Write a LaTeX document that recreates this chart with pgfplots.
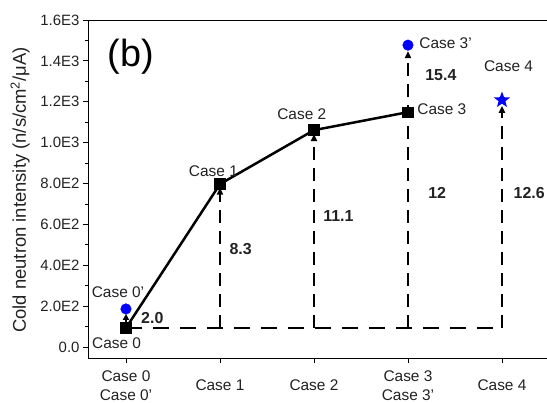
\documentclass[border=0pt]{standalone}
\usepackage{fontspec}
\setmainfont{Liberation Sans}
\usepackage{pgfplots}
\pgfplotsset{compat=1.18}
\usetikzlibrary{arrows.meta}
\pgfdeclareplotmark{fstar}{%
  \pgfpathmoveto{\pgfpointpolar{90}{\pgfplotmarksize}}%
  \pgfpathlineto{\pgfpointpolar{126}{0.42\pgfplotmarksize}}%
  \pgfpathlineto{\pgfpointpolar{162}{\pgfplotmarksize}}%
  \pgfpathlineto{\pgfpointpolar{198}{0.42\pgfplotmarksize}}%
  \pgfpathlineto{\pgfpointpolar{234}{\pgfplotmarksize}}%
  \pgfpathlineto{\pgfpointpolar{270}{0.42\pgfplotmarksize}}%
  \pgfpathlineto{\pgfpointpolar{306}{\pgfplotmarksize}}%
  \pgfpathlineto{\pgfpointpolar{342}{0.42\pgfplotmarksize}}%
  \pgfpathlineto{\pgfpointpolar{18}{\pgfplotmarksize}}%
  \pgfpathlineto{\pgfpointpolar{54}{0.42\pgfplotmarksize}}%
  \pgfpathclose\pgfusepathqfill}
\definecolor{txt}{HTML}{222222}
\begin{document}
\begin{tikzpicture}
\begin{axis}[
  scale only axis, width=459bp, height=338bp,
  xmin=-0.404, xmax=4.479, ymin=-54, ymax=1600,
  axis x line*=bottom, axis y line*=left,
  clip=false,
  xtick={0,1,2,3,4},
  xticklabels={{Case 0\\Case 0'},{Case 1},{Case 2},{Case 3\\Case 3'},{Case 4}},
  xticklabel style={align=center, anchor=center, yshift=-22.5bp,
    font=\fontsize{15.5}{18.5}\selectfont, text=txt, inner sep=1bp},
  ytick={0,200,400,600,800,1000,1200,1400,1600},
  yticklabels={0.0,2.0E2,4.0E2,6.0E2,8.0E2,1.0E3,1.2E3,1.4E3,1.6E3},
  yticklabel style={font=\fontsize{15}{17}\selectfont, text=txt},
  minor y tick num=1,
  tick align=outside, major tick length=5bp, minor tick length=3bp,
  tick style={black, line width=0.8bp},
  axis line style={black, line width=0.9bp},
  ylabel={Cold neutron intensity (n/s/cm\textsuperscript{2}/μA)},
  ylabel style={at={(axis description cs:-0.148,0.497)}, anchor=center,
    rotate=0, font=\fontsize{18.5}{20}\selectfont, text=txt},
]
\draw[black, line width=0.9bp] (rel axis cs:0,1) -- (rel axis cs:1,1);
% dashed baseline and verticals
\addplot[black, line width=2.4bp, dash pattern=on 16bp off 11bp] coordinates {(0,93) (4,93)};
\addplot[black, line width=2.4bp, dash pattern=on 13bp off 8bp, -{Triangle[width=6bp,length=7bp]}] coordinates {(1,93) (1,780)};
\addplot[black, line width=2.4bp, dash pattern=on 13bp off 8bp, -{Triangle[width=6bp,length=7bp]}] coordinates {(2,93) (2,1042)};
\addplot[black, line width=2.4bp, dash pattern=on 13bp off 8bp, -{Triangle[width=6bp,length=7bp]}] coordinates {(3,93) (3,1448)};
\addplot[black, line width=2.4bp, dash pattern=on 13bp off 8bp, -{Triangle[width=6bp,length=7bp]}] coordinates {(4,93) (4,1180)};
\addplot[black, line width=2.2bp, -{Triangle[width=6bp,length=6bp]}] coordinates {(0,115) (0,162)};
% main line
\addplot[black, line width=2.5bp, mark=square*, mark size=4.4bp, mark options={solid}] coordinates {(0,93) (1,797) (2,1061) (3,1149)};
% blue points
\addplot[only marks, blue, mark=*, mark size=5.3bp] coordinates {(0,186) (3,1477)};
\addplot[only marks, blue, mark=fstar, mark size=8.5bp] coordinates {(4,1208)};
% labels
\begin{scope}[every node/.style={font=\fontsize{15.5}{18}\selectfont, text=txt}]
\node at (axis cs:-0.085,269) {Case 0'};
\node at (axis cs:-0.1,20) {Case 0};
\node at (axis cs:0.93,861) {Case 1};
\node at (axis cs:1.87,1139) {Case 2};
\node at (axis cs:3.36,1164) {Case 3};
\node at (axis cs:3.40,1487) {Case 3'};
\node at (axis cs:4.07,1375) {Case 4};
\end{scope}
\begin{scope}[every node/.style={font=\bfseries\fontsize{16}{18}\selectfont, text=txt}]
\node at (axis cs:0.28,142) {2.0};
\node at (axis cs:1.22,479) {8.3};
\node at (axis cs:2.26,641) {11.1};
\node at (axis cs:3.31,753) {12};
\node at (axis cs:4.29,753) {12.6};
\node at (axis cs:3.35,1331) {15.4};
\end{scope}
\node[font=\fontsize{38}{42}\selectfont, text=black] at (axis cs:0.05,1418) {(b)};
\end{axis}
\pgfresetboundingbox
\path[use as bounding box] (-88bp,-45bp) rectangle (459bp,358bp);
\end{tikzpicture}
\end{document}
